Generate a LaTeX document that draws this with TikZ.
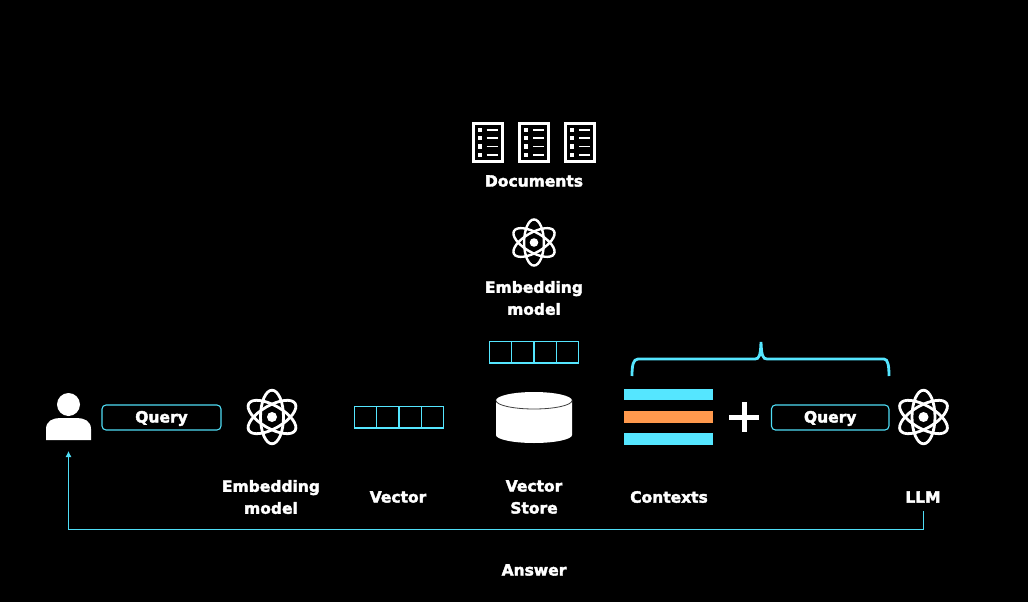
\documentclass[tikz,border=0pt]{standalone}
\usepackage{fontspec}
\setmainfont[BoldFeatures={FakeBold=2.4}]{DejaVu Sans}
\usetikzlibrary{arrows.meta}
\definecolor{cyanline}{HTML}{4FDDF5}
\definecolor{cyanbar}{HTML}{55E6FF}
\definecolor{orangebar}{HTML}{FF994D}
\tikzset{
  labeltext/.style={text=white,font=\fontsize{15.5}{22}\selectfont\bfseries,align=center,inner sep=0pt,outer sep=0pt},
  querybox/.style={draw=cyanline,line width=1.1pt,rounded corners=4pt,minimum height=25pt,inner sep=0pt,outer sep=0pt,text=white,font=\fontsize{15.5}{22}\selectfont\bfseries,text height=10pt,text depth=0pt},
  vectorcell/.style={draw=cyanbar,line width=1.4pt,minimum width=22.3pt,minimum height=21.5pt,inner sep=0pt,outer sep=0pt},
  barshape/.style={minimum width=89pt,inner sep=0pt,outer sep=0pt},
  answerline/.style={draw=cyanline,line width=0.9pt,-{Latex[length=6pt,width=6pt]}},
  bracestroke/.style={draw=cyanbar,line width=2.8pt,line cap=butt},
  pics/atom/.style={code={
    \fill[white] (0,0) circle (5pt*#1);
    \foreach \a in {0,60,120}{
      \draw[white,line width=2.8pt*#1,rotate=\a] (0,0) ellipse (11.5pt*#1 and 26.8pt*#1);
    }
  }},
  pics/doc/.style={code={
    \draw[white,line width=3pt] (-14.5pt,-19pt) rectangle (14.5pt,19pt);
    \foreach \y in {-12.5,-4,4.5,12.5}{
      \fill[white] (-10pt,\y pt-2.2pt) rectangle (-5.6pt,\y pt+2.2pt);
      \draw[white,line width=1.8pt] (-1pt,\y pt) -- (10pt,\y pt);
    }
  }},
}
\begin{document}
\begin{tikzpicture}[x=1pt,y=-1pt]
\useasboundingbox (0,0) rectangle (1028,602);
\fill[black] (0,0) rectangle (1028,602);

% documents
\pic at (487.7,142.5) {doc};
\pic at (534,142.5) {doc};
\pic at (580,142.5) {doc};
\node[labeltext] (documents) at (534,181) {Documents};

% top embedding
\pic at (534,242.5) {atom=0.86};
\node[labeltext] (embedTop) at (534,298) {Embedding\\model};

% top vector
\node[vectorcell] (tv1) at (500.6,352.3) {};
\node[vectorcell] (tv2) at (522.9,352.3) {};
\node[vectorcell] (tv3) at (545.2,352.3) {};
\node[vectorcell] (tv4) at (567.5,352.3) {};

% user
\node[minimum width=45pt,minimum height=47pt,inner sep=0pt,outer sep=0pt] (user) at (68.5,416.5) {};
\fill[white] (68.5,404.5) circle (11.5pt);
\fill[white] (46,440) -- (46,429) .. controls (46,421) and (53,418) .. (60,418)
  -- (77,418) .. controls (84,418) and (91,421) .. (91,429) -- (91,440) -- cycle;

% query 1
\node[querybox,minimum width=119pt] (query1) at (161.5,417.5) {Query};

% left embedding
\pic at (272,417) {atom=1.0};
\node[labeltext] (embedLeft) at (271,497) {Embedding\\model};

% left vector
\node[vectorcell] (v1) at (365.6,417.3) {};
\node[vectorcell] (v2) at (387.9,417.3) {};
\node[vectorcell] (v3) at (410.2,417.3) {};
\node[vectorcell] (v4) at (432.5,417.3) {};
\node[labeltext] (vector) at (398,497) {Vector};

% vector store
\fill[white] (496,400.5) -- (496,435) arc[start angle=180,end angle=360,x radius=38pt,y radius=8pt]
  -- (572,400.5) arc[start angle=0,end angle=180,x radius=38pt,y radius=8.5pt] -- cycle;
\draw[black!75,line width=0.8pt] (496,400.5) arc[start angle=180,end angle=360,x radius=38pt,y radius=8.5pt];
\node[labeltext] (store) at (534,497) {Vector\\Store};

% contexts
\node[barshape,fill=cyanbar,minimum height=11pt] (bar1) at (668.5,394.5) {};
\node[barshape,fill=orangebar,minimum height=12pt] (bar2) at (668.5,417) {};
\node[barshape,fill=cyanbar,minimum height=12pt] (bar3) at (668.5,439) {};
\node[labeltext] (contexts) at (669,497) {Contexts};

% plus
\fill[white] (741.5,402) rectangle (746.5,432);
\fill[white] (729,414.5) rectangle (759,419.5);

% query 2
\node[querybox,minimum width=117.5pt] (query2) at (830.2,417.5) {Query};

% brace
\draw[bracestroke] (632,376) .. controls (632,366) and (633,359) .. (638,359)
  -- (755,359) .. controls (759,359) and (760.5,356) .. (761,342)
  .. controls (761.5,356) and (763,359) .. (767,359)
  -- (884,359) .. controls (888,359) and (889,366) .. (889,376);

% llm
\pic at (923.5,417) {atom=1.0};
\node[labeltext] (llm) at (923,497) {LLM};

% answer line
\coordinate (lineStart) at (923,511);
\coordinate (lineRight) at (923,529);
\coordinate (lineLeft) at (68.5,529);
\coordinate (lineEnd) at (68.5,451);
\draw[answerline] (lineStart) -- (lineRight) -- (lineLeft) -- (lineEnd);
\node[labeltext] (answer) at (534,570) {Answer};
\end{tikzpicture}
\end{document}
